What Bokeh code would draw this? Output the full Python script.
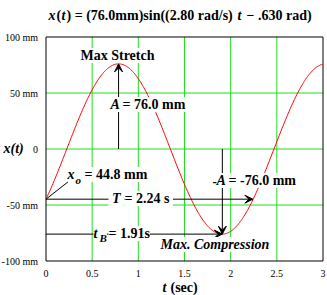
import numpy as np
from bokeh.plotting import figure
from bokeh.models import Range1d, Label, Arrow, VeeHead
from bokeh.core.properties import value
from bokeh.embed import file_html
from bokeh.resources import INLINE

# ---- data ----
amplitude = 76.0        # mm
omega = 2.80            # rad/s
phase = 0.630           # rad
period = 2.24           # s
t_bottom = 1.91         # s
x_initial = -44.8       # mm

x_ticks = [0, 0.5, 1, 1.5, 2, 2.5, 3]
x_tick_labels = ["0", "0.5", "1", "1.5", "2", "2.5", "3"]
y_ticks = [-100, -50, 0, 50, 100]
y_tick_labels = ["-100 mm", "-50 mm", "0", "50 mm", "100 mm"]

t = np.linspace(x_ticks[0], x_ticks[-1], 400)
x = amplitude * np.sin(omega * t - phase)
t_peak = (np.pi / 2 + phase) / omega

# ---- layout (pixel geometry of the plotting box) ----
W, H = 327, 295
L, T = 45.5, 36.5
FW, FH = 277.0, 224.0
XMIN, XMAX = x_ticks[0], x_ticks[-1]
YMIN, YMAX = y_ticks[0], y_ticks[-1]

def dx(px):
    return XMIN + (px - L) / FW * (XMAX - XMIN)
def dy(py):
    return YMAX - (py - T) / FH * (YMAX - YMIN)

p = figure(width=W, height=H, output_backend="svg", toolbar_location=None,
           x_range=Range1d(dx(0), dx(W)), y_range=Range1d(dy(H), dy(0)),
           x_axis_type=None, y_axis_type=None, min_border=0)
p.background_fill_color = "white"
p.border_fill_color = "white"
p.outline_line_color = None

SERIF = "Liberation Serif"
GREEN = "#22dd22"
NB = "\u00a0"

# grid
gx = x_ticks[1:-1]
gy = y_ticks[1:-1]
p.segment(x0=gx, y0=[YMIN] * len(gx), x1=gx, y1=[YMAX] * len(gx), line_color=GREEN, line_width=1)
p.segment(x0=[XMIN] * len(gy), y0=gy, x1=[XMAX] * len(gy), y1=gy, line_color=GREEN, line_width=1)

# plot box
p.quad(left=[XMIN], right=[XMAX], bottom=[YMIN], top=[YMAX], fill_color=None,
       line_color="black", line_width=1)

# tick labels
p.text(x=x_ticks, y=[YMIN] * len(x_ticks), text=x_tick_labels, y_offset=12,
       text_font=value(SERIF), text_font_size="10px", text_align="center",
       text_baseline="middle", text_color="black")
p.text(x=[XMIN] * len(y_ticks), y=y_ticks, text=y_tick_labels, x_offset=-8,
       text_font=value(SERIF), text_font_size="10px", text_align="right",
       text_baseline="middle", text_color="black")

# curve
p.line(t, x, line_color="red", line_width=1)

# leader line for x_o
p.line([XMIN, dx(68)], [x_initial, dy(181)], line_color="black", line_width=1)

def arrow(x0, y0, x1, y1):
    p.add_layout(Arrow(end=VeeHead(size=8, fill_color="black", line_color="black", line_width=1),
                       x_start=x0, y_start=y0, x_end=x1, y_end=y1,
                       line_color="black", line_width=1))

arrow(t_peak, 0, t_peak, amplitude)
arrow(t_bottom, 0, t_bottom, -amplitude)
arrow(XMIN, x_initial, period, x_initial)
arrow(XMIN, -amplitude, t_bottom, -amplitude)

def lab(text, px, py, size=14, style="bold", bg="white"):
    p.add_layout(Label(x=dx(px), y=dy(py), text=text, text_font=SERIF,
                       text_font_size=f"{size}px", text_font_style=style,
                       text_baseline="middle", text_align="left", text_color="black",
                       background_fill_color=bg))

# title
ty = 15
lab("x", 48, ty, style="bold italic", bg=None)
lab("(", 56, ty, bg=None)
lab("t", 61, ty, style="bold italic", bg=None)
lab(") = (76.0mm)sin((2.80 rad/s)", 66, ty, bg=None)
lab("t", 237, ty, style="bold italic", bg=None)
lab("\u2212 .630 rad)", 246, ty, bg=None)

# axis labels
lab("x(t)", 3, 148, style="bold italic", bg=None)
lab("t", 162, 287, style="bold italic", bg=None)
lab("(sec)", 170, 287, bg=None)

# annotations
lab("Max Stretch", 80, 55)
lab("A" + NB, 110, 104, style="bold italic")
lab("= 76.0 mm", 122, 104)
lab("x" + NB, 67, 174, style="bold italic")
lab("o", 75, 179, size=11, style="bold italic")
lab("= 44.8 mm", 84, 174)
lab(NB + "T" + NB, 108, 198, style="bold italic")
lab("= 2.24 s" + NB, 124, 198)
lab("t" + NB, 93, 233, style="bold italic")
lab("B", 99, 237, size=11, style="bold italic")
lab("= 1.91s", 108, 233)
lab("Max. Compression", 160, 244, style="bold italic")
lab("-", 212, 180)
lab("A" + NB, 216, 180, style="bold italic")
lab("= -76.0 mm", 228, 180)

open("out.html", "w").write(file_html(p, INLINE))
